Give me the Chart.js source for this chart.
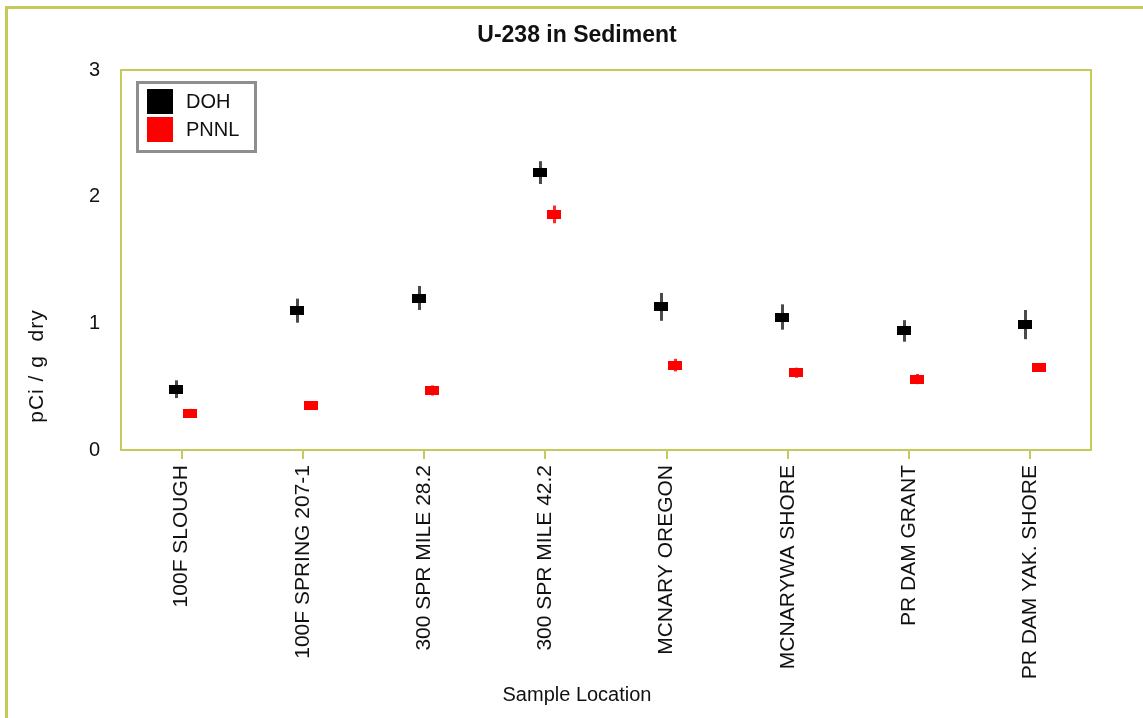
<!DOCTYPE html>
<html><head><meta charset="utf-8">
<script src="https://cdn.jsdelivr.net/npm/chart.js@4.4.1/dist/chart.umd.min.js"></script>
<style>html,body{margin:0;padding:0;background:#fff;overflow:hidden}canvas{display:block}</style>
</head><body>
<canvas id="c" width="1143" height="718"></canvas>
<script>
// ---- data ----
const categories = ["100F SLOUGH","100F SPRING 207-1","300 SPR MILE 28.2","300 SPR MILE 42.2","MCNARY OREGON","MCNARYWA SHORE","PR DAM GRANT","PR DAM YAK. SHORE"];
const dohValues  = [0.48, 1.10, 1.20, 2.19, 1.13, 1.05, 0.94, 0.99];
const dohErrors  = [0.07, 0.095, 0.095, 0.09, 0.11, 0.10, 0.085, 0.115];
const pnnlValues = [0.29, 0.35, 0.47, 1.86, 0.67, 0.61, 0.56, 0.65];
const pnnlErrors = [0.035, 0.03, 0.04, 0.07, 0.05, 0.04, 0.04, 0.03];
const yTicks = [0, 1, 2, 3];
const seriesNames = ["DOH", "PNNL"];

// ---- styles ----
const FONT = "'Liberation Sans', Arial, sans-serif";
const OLIVE = '#c6ca5c';
const TEXT = '#111';

function markerCanvas(color) {
  const c = document.createElement('canvas');
  c.width = 14; c.height = 9;
  const g = c.getContext('2d');
  g.fillStyle = color; g.fillRect(0, 0, 14, 9);
  return c;
}

const decor = {
  id: 'decor',
  beforeDatasetsDraw(chart) {
    const {ctx, scales: {x, y}} = chart;
    chart.data.datasets.forEach(ds => {
      ctx.save();
      ctx.strokeStyle = ds.errColor;
      ctx.lineWidth = 3;
      ds.data.forEach((p, i) => {
        const px = Math.round(x.getPixelForValue(p.x)) + 0.5;
        ctx.beginPath();
        ctx.moveTo(px, y.getPixelForValue(p.y + ds.errors[i]));
        ctx.lineTo(px, y.getPixelForValue(p.y - ds.errors[i]));
        ctx.stroke();
      });
      ctx.restore();
    });
  },
  afterDraw(chart) {
    const {ctx, chartArea: a} = chart;
    ctx.save();
    // plot border
    ctx.strokeStyle = OLIVE; ctx.lineWidth = 2;
    ctx.strokeRect(a.left, a.top, a.right - a.left, a.bottom - a.top);
    // outer frame
    ctx.lineWidth = 3;
    ctx.beginPath();
    ctx.moveTo(6.5, 718); ctx.lineTo(6.5, 7.5); ctx.lineTo(1143, 7.5);
    ctx.stroke();
    // title
    ctx.fillStyle = TEXT;
    ctx.textAlign = 'center'; ctx.textBaseline = 'middle';
    ctx.font = 'bold 23px ' + FONT;
    ctx.fillText('U-238 in Sediment', 577, 36);
    // x title
    ctx.font = '20px ' + FONT;
    ctx.fillText('Sample Location', 577, 695);
    // y title
    ctx.save();
    ctx.translate(37, 366); ctx.rotate(-Math.PI / 2);
    ctx.font = '21px ' + FONT;
    try { ctx.letterSpacing = '1px'; } catch (e) {}
    ctx.fillText('pCi / g  dry', 0, 0);
    ctx.restore();
    // legend
    ctx.strokeStyle = '#8e8e8e'; ctx.lineWidth = 3;
    ctx.strokeRect(137.5, 82.5, 118, 69);
    ctx.textAlign = 'left';
    ctx.font = '20px ' + FONT;
    chart.data.datasets.forEach((ds, i) => {
      ctx.fillStyle = ds.backgroundColor;
      ctx.fillRect(147, 89 + i * 28, 26, 25);
      ctx.fillStyle = TEXT;
      ctx.fillText(ds.label, 186, 102 + i * 28);
    });
    ctx.restore();
  }
};

const tickFont = {family: FONT, size: 20};

new Chart(document.getElementById('c'), {
  type: 'scatter',
  data: {
    datasets: [
      {label: seriesNames[0], data: dohValues.map((v, i) => ({x: i - 0.045, y: v})),
       errors: dohErrors, errColor: '#4a4a4a', backgroundColor: '#000', borderColor: '#000',
       pointStyle: markerCanvas('#000')},
      {label: seriesNames[1], data: pnnlValues.map((v, i) => ({x: i + 0.068, y: v})),
       errors: pnnlErrors, errColor: '#ff2a2a', backgroundColor: '#ff0000', borderColor: '#ff0000',
       pointStyle: markerCanvas('#ff0000')}
    ]
  },
  options: {
    responsive: false, animation: false, devicePixelRatio: 1,
    layout: {padding: {left: 0, top: 70, right: 52, bottom: 0}},
    plugins: {legend: {display: false}, tooltip: {enabled: false}, title: {display: false}},
    scales: {
      x: {
        type: 'linear', min: -0.5, max: 7.5,
        afterBuildTicks: s => { s.ticks = categories.map((_, i) => ({value: i})); },
        afterFit: s => { s.height = 268; },
        grid: {display: true, drawOnChartArea: false, drawTicks: true, tickLength: 9, color: OLIVE, lineWidth: 2},
        border: {display: false},
        ticks: {autoSkip: false, minRotation: 90, maxRotation: 90, padding: 6, color: TEXT,
                font: {family: FONT, size: 21}, callback: v => categories[v]}
      },
      y: {
        min: 0, max: 3,
        afterBuildTicks: s => { s.ticks = yTicks.map(v => ({value: v})); },
        afterFit: s => { s.width = 121; },
        grid: {display: false}, border: {display: false},
        ticks: {padding: 13, color: TEXT, font: tickFont}
      }
    }
  },
  plugins: [decor]
});
</script>
</body></html>
